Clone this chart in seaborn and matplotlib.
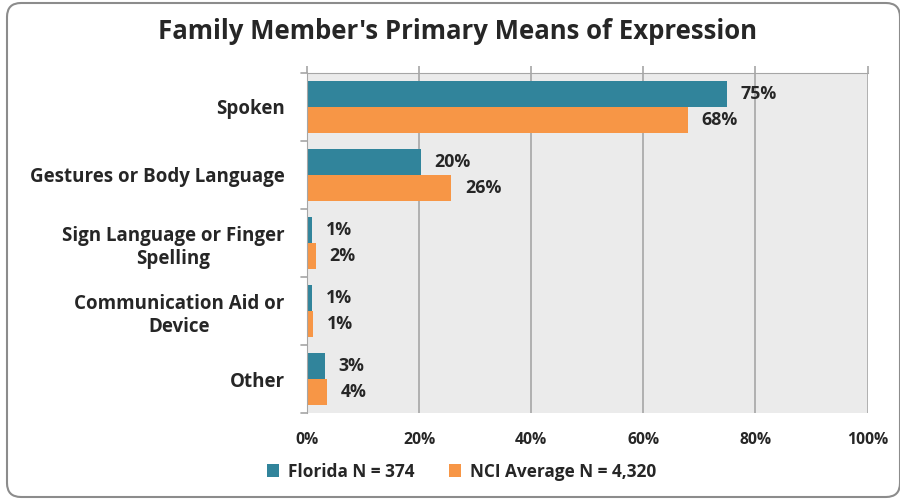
import matplotlib
matplotlib.use("Agg")
import matplotlib.pyplot as plt
from matplotlib.patches import FancyBboxPatch, Patch
from matplotlib.transforms import IdentityTransform
from matplotlib.ticker import FuncFormatter
import pandas as pd
import seaborn as sns

# data
categories = ["Spoken", "Gestures or Body Language", "Sign Language or Finger\nSpelling",
              "Communication Aid or\nDevice", "Other"]
florida = [74.9, 20.3, 0.9, 0.9, 3.2]
nci = [67.9, 25.7, 1.6, 1.1, 3.6]
florida_labels = ["75%", "20%", "1%", "1%", "3%"]
nci_labels = ["68%", "26%", "2%", "1%", "4%"]
series = ["Florida N = 374", "NCI Average N = 4,320"]
colors = ["#31849B", "#F79646"]
grid_gray = "#A6A6A6"

sns.set_style("white")
plt.rcParams["font.family"] = ["Open Sans", "DejaVu Sans"]
plt.rcParams["font.weight"] = "bold"

df = pd.DataFrame({
    "category": categories * 2,
    "value": florida + nci,
    "series": [series[0]] * 5 + [series[1]] * 5,
})

fig = plt.figure(figsize=(9, 4.99), dpi=100)
ax = fig.add_axes([0.341, 0.172, 0.623, 0.682])

sns.barplot(data=df, y="category", x="value", hue="series", palette=colors,
            width=0.77, orient="h", ax=ax, legend=False, saturation=1, linewidth=0)

ax.set_facecolor("#EBEBEB")
ax.set_xlim(0, 100)
ax.set_ylim(4.5, -0.5)
ax.set_xticks([0, 20, 40, 60, 80, 100])
ax.xaxis.set_major_formatter(FuncFormatter(lambda v, p: f"{v:.0f}%"))
ax.grid(axis="x", color=grid_gray, linewidth=1.2)
ax.set_axisbelow(True)
ax.set_xlabel("")
ax.set_ylabel("")
ax.tick_params(axis="x", bottom=False, top=True, labeltop=False, length=5,
               color=grid_gray, width=1.2, labelsize=11.3, pad=8.5)
ax.tick_params(axis="y", length=0, labelsize=13.5, pad=16)
for lab in ax.get_xticklabels() + ax.get_yticklabels():
    lab.set_fontweight("bold")
for lab in ax.get_yticklabels():
    lab.set_multialignment("center")

for s in ["right", "bottom"]:
    ax.spines[s].set_visible(False)
ax.spines["left"].set_color(grid_gray)
ax.spines["top"].set_color(grid_gray)

# Excel style ticks between categories
for b in [-0.5, 0.5, 1.5, 2.5, 3.5, 4.5]:
    ax.plot([-1.1, 0], [b, b], color=grid_gray, lw=1.2, clip_on=False)

for cont, labels in zip(ax.containers, [florida_labels, nci_labels]):
    ax.bar_label(cont, labels=labels, padding=10, fontsize=12.8, fontweight="bold")

fig.text(0.508, 0.936, "Family Member's Primary Means of Expression", ha="center", va="center",
         fontsize=18.5, fontweight="bold")

handles = [Patch(facecolor=c, edgecolor="none") for c in colors]
fig.legend(handles, series, loc="center", bbox_to_anchor=(0.513, 0.055), ncol=2,
           frameon=False, fontsize=12.4, handlelength=0.7, handleheight=0.7,
           columnspacing=2.0, handletextpad=0.5)

border = FancyBboxPatch((7, 2), 893, 494, boxstyle="round,pad=0,rounding_size=14",
                        transform=IdentityTransform(), facecolor="none", edgecolor="#8C8C8C",
                        linewidth=1.5, clip_on=False)
fig.patches.append(border)

fig.savefig("out.png", dpi=100)
